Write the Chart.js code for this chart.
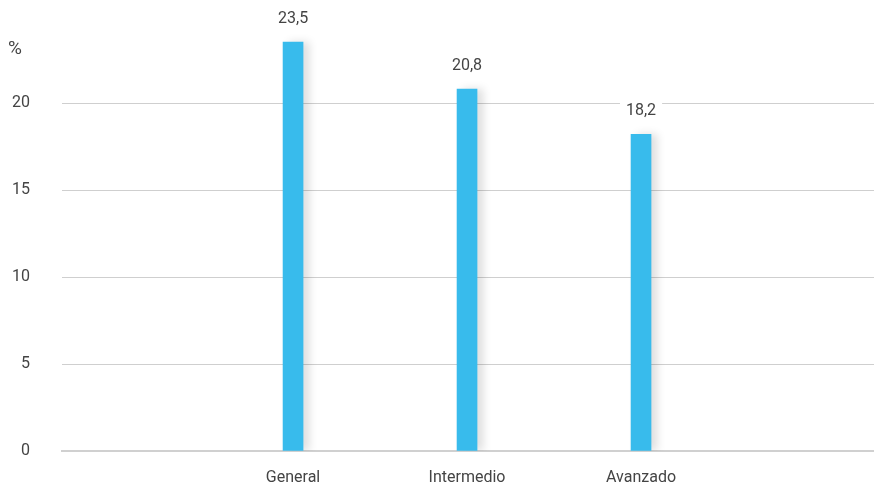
<!DOCTYPE html>
<html>
<head>
<meta charset="utf-8">
<script src="https://cdn.jsdelivr.net/npm/chart.js@4/dist/chart.umd.min.js"></script>
<style>
  html, body { margin: 0; padding: 0; background: #fff; }
  #wrap { width: 874px; height: 486px; position: relative; }
</style>
</head>
<body>
<div id="wrap"><canvas id="chart"></canvas></div>
<script>
const categories = ['General', 'Intermedio', 'Avanzado'];
const values = [23.5, 20.8, 18.2];
const yTicks = [0, 5, 10, 15, 20];

const TEXT = '#444';
const BAR = '#38bbec';
const FONT = "Roboto, sans-serif";

const fmt = v => v.toFixed(1).replace('.', ',');

// soft grey shadow to the right of each bar
const barShadow = {
    id: 'barShadow',
    beforeDatasetDraw(chart) {
        const ctx = chart.ctx;
        ctx.save();
        ctx.shadowColor = 'rgba(0,0,0,0.13)';
        ctx.shadowBlur = 9;
        ctx.shadowOffsetX = 6;
        ctx.shadowOffsetY = 0;
    },
    afterDatasetDraw(chart) {
        chart.ctx.restore();
    },
};

// value labels above bars, on a white box that hides the grid line
const valueLabels = {
    id: 'valueLabels',
    afterDatasetsDraw(chart) {
        const ctx = chart.ctx;
        const meta = chart.getDatasetMeta(0);
        ctx.save();
        ctx.font = '16px ' + FONT;
        ctx.textAlign = 'center';
        ctx.textBaseline = 'middle';
        meta.data.forEach((bar, i) => {
            const txt = fmt(values[i]);
            const y = bar.y - 23;
            const w = ctx.measureText(txt).width;
            ctx.fillStyle = '#fff';
            ctx.fillRect(bar.x - w / 2 - 6, y - 10, w + 12, 20);
            ctx.fillStyle = TEXT;
            ctx.fillText(txt, bar.x, y);
        });
        // unit caption above the y axis
        ctx.font = '19px ' + FONT;
        ctx.textAlign = 'left';
        ctx.fillText('%', 8, 49);
        ctx.restore();
    },
};

new Chart(document.getElementById('chart'), {
    type: 'bar',
    data: {
        datasets: [{
            data: values.map((v, i) => ({ x: i + 1, y: v })),
            backgroundColor: BAR,
            barThickness: 20,
        }],
    },
    options: {
        responsive: true,
        maintainAspectRatio: false,
        animation: false,
        layout: { padding: 0 },
        plugins: { legend: { display: false }, tooltip: { enabled: false } },
        scales: {
            x: {
                type: 'linear',
                offset: false,
                min: -0.328,
                max: 4.339,
                afterBuildTicks: s => { s.ticks = categories.map((c, i) => ({ value: i + 1 })); },
                afterFit: s => { s.height = 35; s.paddingLeft = 0; s.paddingRight = 0; },
                grid: { display: false, drawTicks: false },
                border: { color: '#d0d0d0', width: 2 },
                ticks: {
                    padding: 17,
                    color: TEXT,
                    font: { family: FONT, size: 16 },
                    callback: v => categories[v - 1],
                },
            },
            y: {
                min: 0,
                max: 25.92,
                afterBuildTicks: s => { s.ticks = yTicks.map(v => ({ value: v })); },
                afterFit: s => { s.width = 62; s.paddingTop = 0; s.paddingBottom = 0; },
                grid: { color: '#cfcfcf', drawTicks: false },
                border: { display: false },
                ticks: {
                    padding: 32,
                    color: TEXT,
                    font: { family: FONT, size: 16 },
                },
            },
        },
    },
    plugins: [barShadow, valueLabels],
});
</script>
</body>
</html>
